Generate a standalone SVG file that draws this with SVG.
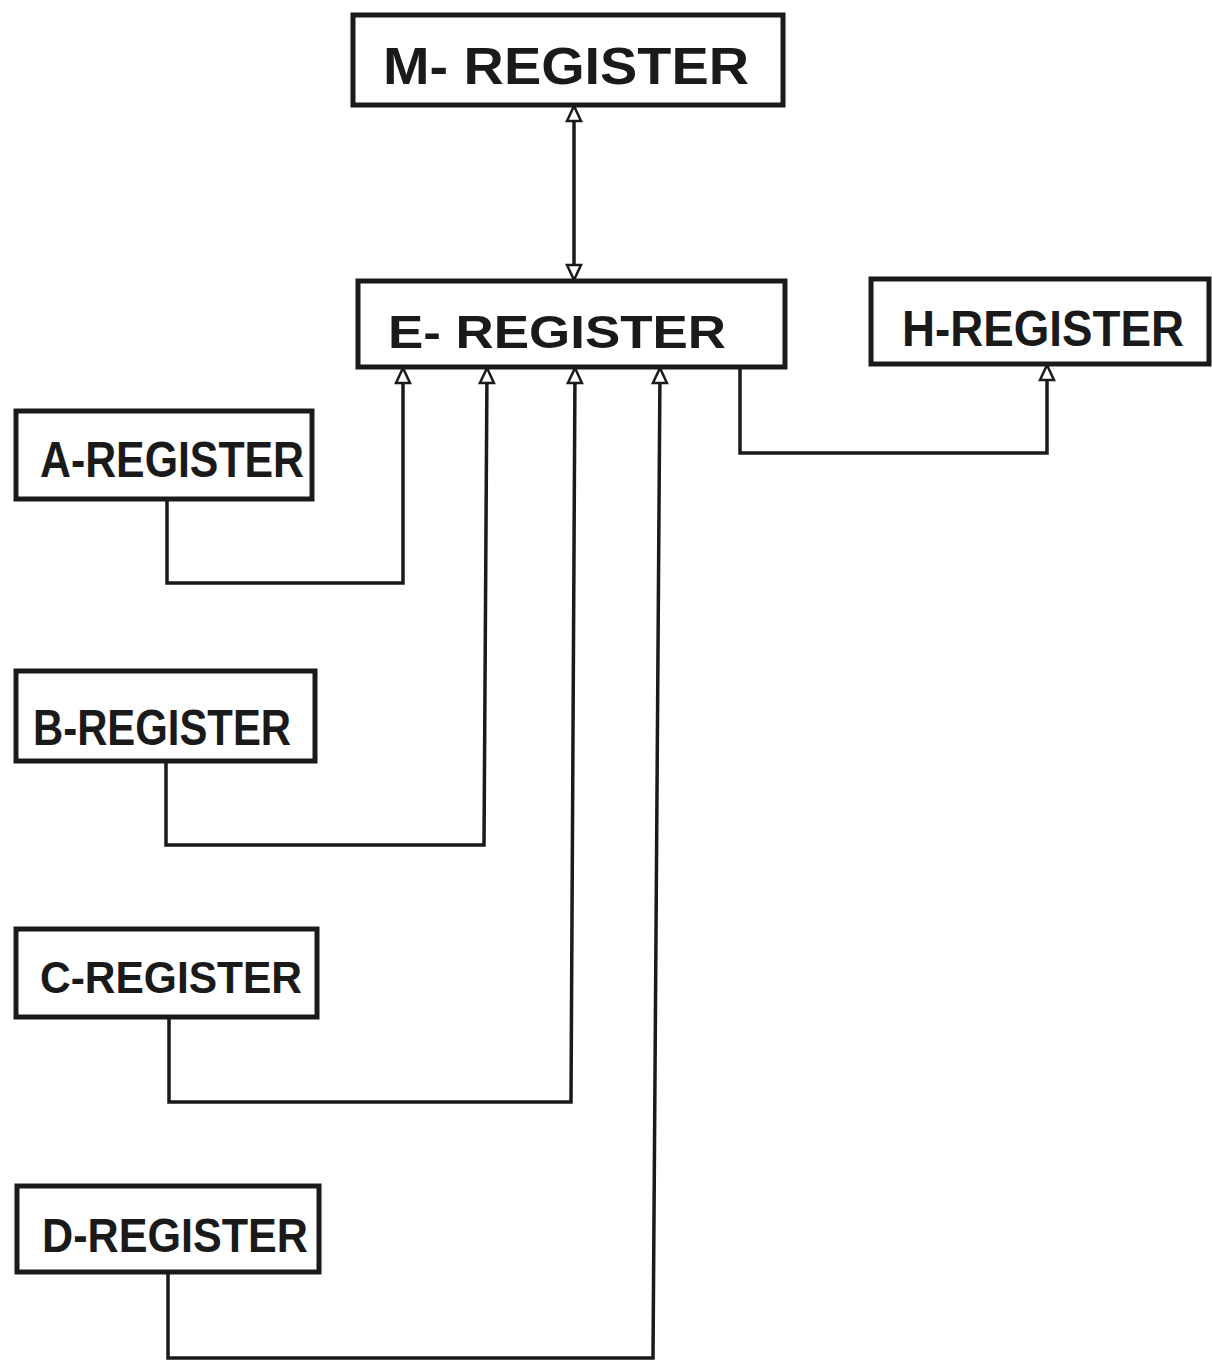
<svg xmlns="http://www.w3.org/2000/svg" width="1212" height="1364" viewBox="0 0 1212 1364">
<style>
.box{fill:#fff;stroke:#1a1a1a;stroke-width:5}
.lbl{font-family:"Liberation Sans","DejaVu Sans",sans-serif;font-weight:bold;fill:#1a1a1a}
.wire{fill:none;stroke:#1a1a1a;stroke-width:3.5;stroke-linejoin:miter}
</style>
<defs>
<marker id="tri" viewBox="0 0 18 18" refX="17" refY="9" markerWidth="18" markerHeight="18" markerUnits="userSpaceOnUse" orient="auto-start-reverse">
<path d="M2,2 L17,9 L2,16 Z" fill="#fff" stroke="#1a1a1a" stroke-width="2.5"/>
</marker>
</defs>
<rect width="1212" height="1364" fill="#fff"/>
<g id="connectors">
<path class="wire" d="M574,280 L574,106" marker-start="url(#tri)" marker-end="url(#tri)"/>
<path class="wire" d="M167,499 L167,583 L403,583 L403,368" marker-end="url(#tri)"/>
<path class="wire" d="M166,762 L166,845 L484,845 L487,368" marker-end="url(#tri)"/>
<path class="wire" d="M169,1017 L169,1102 L571,1102 L575,368" marker-end="url(#tri)"/>
<path class="wire" d="M168,1272 L168,1358 L653,1358 L660,368" marker-end="url(#tri)"/>
<path class="wire" d="M740,367 L740,453 L1047,453 L1047,365" marker-end="url(#tri)"/>
</g>
<g id="m-register">
<rect class="box" x="353" y="15" width="430" height="90"/>
<text class="lbl" x="383" y="84" font-size="52" textLength="366" lengthAdjust="spacingAndGlyphs">M- REGISTER</text>
</g>
<g id="e-register">
<rect class="box" x="358" y="281" width="427" height="86"/>
<text class="lbl" x="388" y="348" font-size="46" textLength="338" lengthAdjust="spacingAndGlyphs">E- REGISTER</text>
</g>
<g id="h-register">
<rect class="box" x="871" y="279" width="338" height="85"/>
<text class="lbl" x="902" y="346" font-size="50" textLength="282" lengthAdjust="spacingAndGlyphs">H-REGISTER</text>
</g>
<g id="a-register">
<rect class="box" x="16" y="411" width="296" height="88"/>
<text class="lbl" x="40" y="477" font-size="50" textLength="264" lengthAdjust="spacingAndGlyphs">A-REGISTER</text>
</g>
<g id="b-register">
<rect class="box" x="16" y="671" width="299" height="90"/>
<text class="lbl" x="33" y="745" font-size="50" textLength="258" lengthAdjust="spacingAndGlyphs">B-REGISTER</text>
</g>
<g id="c-register">
<rect class="box" x="16" y="929" width="301" height="88"/>
<text class="lbl" x="40" y="993" font-size="44" textLength="262" lengthAdjust="spacingAndGlyphs">C-REGISTER</text>
</g>
<g id="d-register">
<rect class="box" x="17" y="1186" width="302" height="86"/>
<text class="lbl" x="42" y="1252" font-size="48" textLength="266" lengthAdjust="spacingAndGlyphs">D-REGISTER</text>
</g>
</svg>
